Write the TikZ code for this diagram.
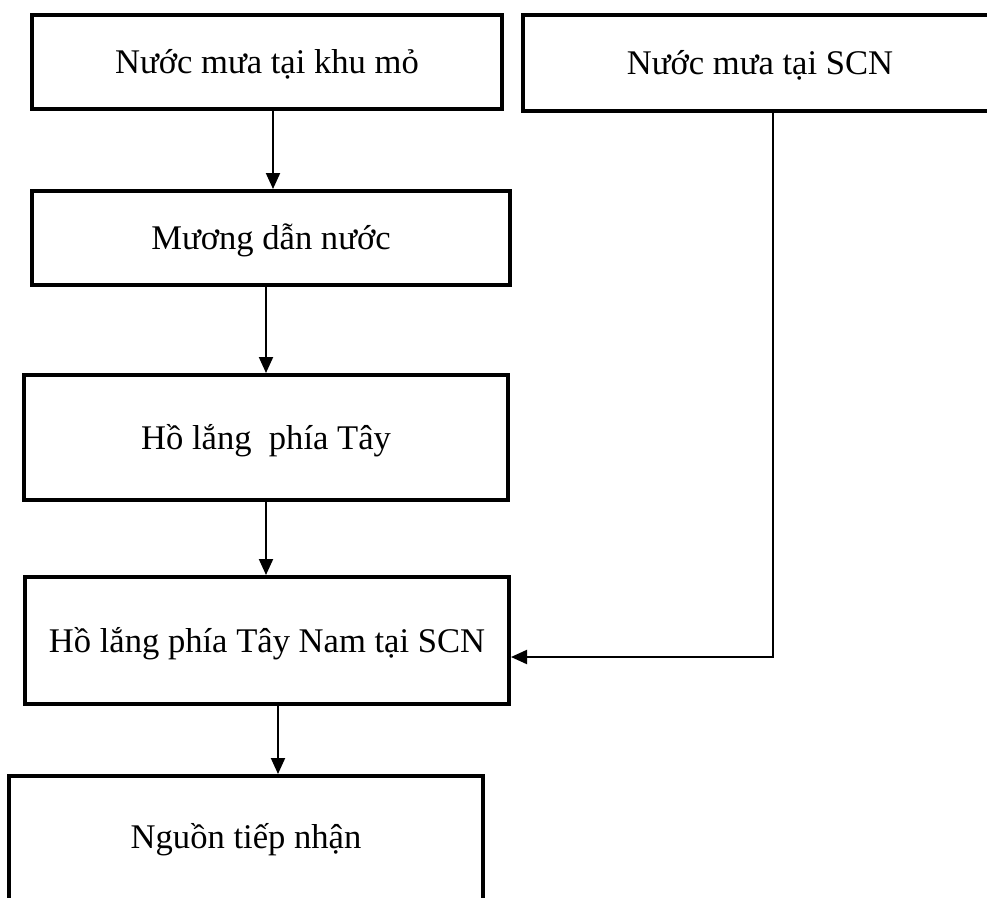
\documentclass[tikz,border=0pt]{standalone}
\usepackage{fontspec}
\setmainfont{Liberation Serif}
\usetikzlibrary{arrows.meta}
\begin{document}
\begin{tikzpicture}[x=1pt,y=-1pt,
  box/.style={draw,line width=4pt,rectangle,inner sep=0pt,
    font=\fontsize{34.6}{41}\selectfont,text height=23pt,text depth=0pt},
  arr/.style={line width=2pt,-{Triangle[length=16pt,width=14pt]}}]
\useasboundingbox (0,0) rectangle (987,897);
\begin{scope}
\clip (0,0) rectangle (987,897);
\node[box,minimum width=470pt,minimum height=94pt] (mo) at (267,62) {Nước mưa tại khu mỏ};
\node[box,minimum width=474pt,minimum height=96pt] (scn) at (760,63) {Nước mưa tại SCN};
\node[box,minimum width=478pt,minimum height=94pt] (muong) at (271,238) {Mương dẫn nước};
\node[box,minimum width=484pt,minimum height=125pt] (tay) at (266,437.5) {Hồ lắng~ phía Tây};
\node[box,minimum width=484pt,minimum height=127pt] (taynam) at (267,640.5) {Hồ lắng phía Tây Nam tại SCN};
\node[box,minimum width=474pt,minimum height=140pt,text depth=19pt] (nguon) at (246,846) {Nguồn tiếp nhận};
\end{scope}
\draw[arr] ([xshift=6pt]mo.south) -- ([xshift=6pt]mo.south |- muong.north);
\draw[arr] ([xshift=-5pt]muong.south) -- ([xshift=-5pt]muong.south |- tay.north);
\draw[arr] (tay.south) -- (tay.south |- taynam.north);
\draw[arr] ([xshift=11pt]taynam.south) -- ([xshift=11pt]taynam.south |- nguon.north);
\coordinate (drop) at ([xshift=13pt]scn.south);
\coordinate (inlet) at ([yshift=-16.5pt]taynam.east);
\draw[arr] (drop) -- (drop |- inlet) -- (inlet);
\end{tikzpicture}
\end{document}
